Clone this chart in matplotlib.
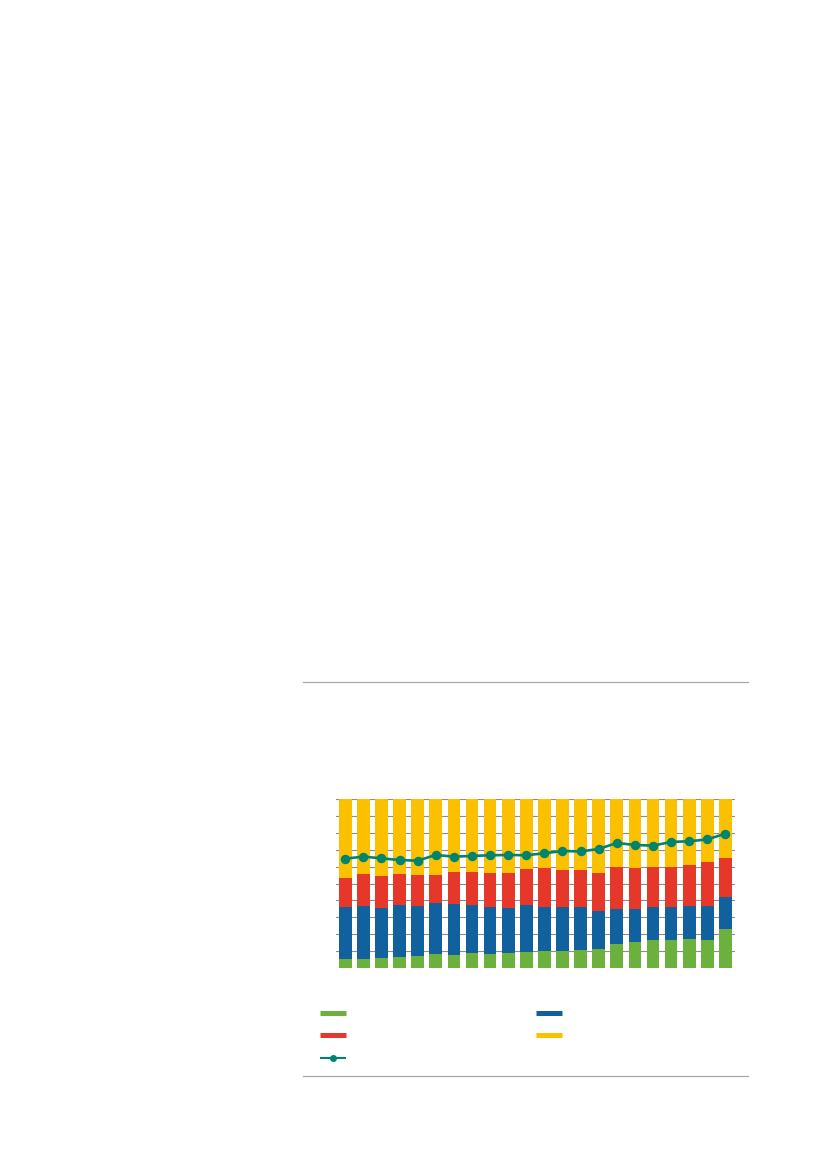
import numpy as np
import matplotlib
matplotlib.use("Agg")
import matplotlib.pyplot as plt
from matplotlib.lines import Line2D

# shares (%), stacked bottom to top
green = [5.3, 5.3, 5.9, 6.7, 7.3, 8.1, 7.9, 8.7, 8.5, 9.1, 9.7,
         9.9, 10.3, 10.8, 11.2, 14.4, 15.6, 16.4, 16.8, 17.4, 16.4, 23.3]
blue_top = [35.9, 36.5, 35.5, 37.3, 36.9, 38.5, 37.9, 37.5, 36.1, 35.5, 37.5,
            36.1, 35.9, 35.9, 33.9, 34.9, 34.7, 36.1, 36.1, 36.7, 36.7, 41.8]
red_top = [53.5, 55.4, 54.2, 55.6, 55.2, 54.8, 56.6, 56.6, 56.2, 56.2, 58.4,
           59.0, 57.8, 58.2, 56.0, 59.6, 59.0, 60.0, 59.8, 60.7, 62.5, 64.9]
line_vals = [64.7, 65.9, 64.9, 63.9, 63.5, 66.9, 65.9, 66.3, 66.7, 66.9, 66.7,
             67.9, 69.2, 69.0, 70.4, 74.0, 72.8, 72.4, 74.6, 75.0, 76.1, 79.5]

green = np.array(green)
blue = np.array(blue_top) - green
red = np.array(red_top) - np.array(blue_top)
yellow = 100 - np.array(red_top)
x = np.arange(len(green))

c_green = "#6cb13e"
c_blue = "#11619e"
c_red = "#e5382b"
c_yellow = "#fbc000"
c_line = "#00836f"

W, H = 827, 1169
fig = plt.figure(figsize=(W / 100, H / 100), dpi=100)

ax = fig.add_axes([336 / W, 1 - 968 / H, (735 - 336) / W, (968 - 799) / H])
w = 0.7
ax.bar(x, green, w, color=c_green, zorder=2)
ax.bar(x, blue, w, bottom=green, color=c_blue, zorder=2)
ax.bar(x, red, w, bottom=green + blue, color=c_red, zorder=2)
ax.bar(x, yellow, w, bottom=green + blue + red, color=c_yellow, zorder=2)
ax.plot(x, line_vals, color=c_line, lw=1.9, marker="o", ms=5.8, zorder=3)

ax.set_xlim(-0.51, 21.53)
ax.set_ylim(0, 100)
ax.set_yticks(np.arange(0, 101, 10))
ax.yaxis.grid(True, color="#8c8c8c", lw=0.8, zorder=1)
ax.tick_params(left=False, bottom=False, labelleft=False, labelbottom=False)
for s in ax.spines.values():
    s.set_visible(False)

# thin rules above and below the figure block
for yy in (682, 1076):
    fig.add_artist(Line2D([303 / W, 748 / W], [1 - yy / H, 1 - yy / H],
                          color="#a8a8a8", lw=0.9, transform=fig.transFigure))

handles = [
    Line2D([], [], color=c_green, lw=3.6, solid_capstyle="butt"),
    Line2D([], [], color=c_red, lw=3.6, solid_capstyle="butt"),
    Line2D([], [], color=c_line, lw=1.5, marker="o", ms=4, solid_capstyle="butt"),
    Line2D([], [], color=c_blue, lw=3.6, solid_capstyle="butt"),
    Line2D([], [], color=c_yellow, lw=3.6, solid_capstyle="butt"),
]
fig.legend(handles, [""] * 5, ncol=2, frameon=False, fontsize=10,
           handlelength=1.87, handletextpad=0.8, columnspacing=12.9,
           labelspacing=0.6, loc="upper left",
           bbox_to_anchor=(320 / W, 1 - 1007 / H), borderaxespad=0, borderpad=0)

fig.savefig("out.png", dpi=100)
